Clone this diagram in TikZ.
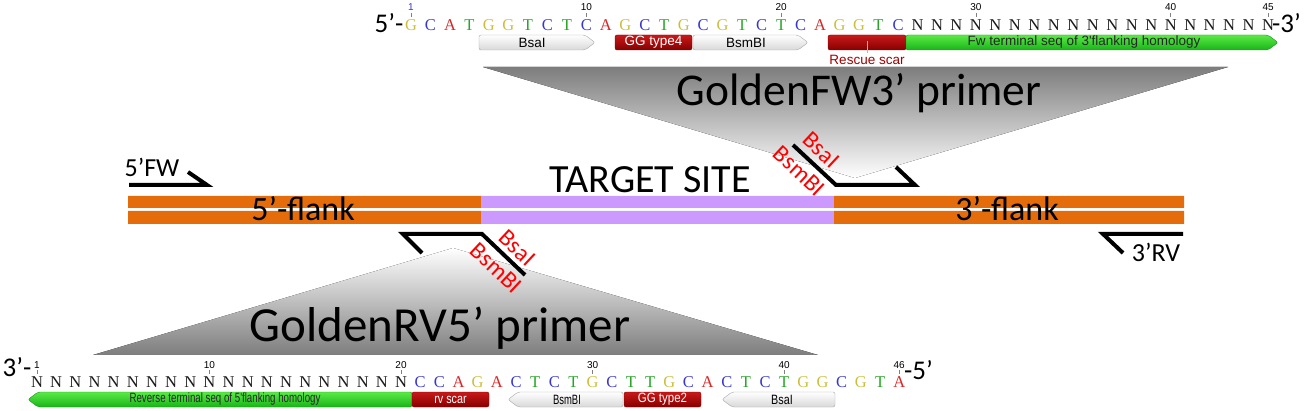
\documentclass[tikz,border=0pt]{standalone}
\usepackage{fontspec}
\setmainfont{Carlito}
\newfontfamily\seqfont{Liberation Serif}
\newfontfamily\featfont{Liberation Sans}
\definecolor{flankor}{RGB}{228,108,10}
\definecolor{targetpu}{RGB}{204,153,255}
\definecolor{colG}{RGB}{204,190,60}
\definecolor{colC}{RGB}{55,55,205}
\definecolor{colA}{RGB}{215,40,40}
\definecolor{colT}{RGB}{40,165,40}
\definecolor{colN}{RGB}{25,25,25}
\definecolor{wedgegray}{RGB}{125,125,125}
\definecolor{redtop}{RGB}{200,25,25}
\definecolor{redbot}{RGB}{135,0,0}
\definecolor{grtop}{RGB}{90,235,70}
\definecolor{grbot}{RGB}{25,180,25}
\definecolor{scarred}{RGB}{160,0,0}
\newcommand\fwdfeat[5]{\path[#5] (#1,#3) -- ({#2-10},#3) -- (#2,{(#3+#4)/2}) -- ({#2-10},#4) -- (#1,#4) -- cycle;}
\newcommand\revfeat[5]{\path[#5] ({#1+10},#3) -- (#2,#3) -- (#2,#4) -- ({#1+10},#4) -- (#1,{(#3+#4)/2}) -- cycle;}
\newcommand\boxfeat[5]{\path[#5] (#1,#3) rectangle (#2,#4);}
\begin{document}
\begin{tikzpicture}[x=1pt,y=-1pt,
  primer/.style={line width=4pt,line join=miter},
  seqch/.style={inner sep=0pt,anchor=base,font=\seqfont\fontsize{16.5}{17}\selectfont},
  numlab/.style={inner sep=0pt,anchor=base,font=\featfont\fontsize{10}{11}\selectfont},
  tickmark/.style={draw=gray,line width=0.8pt},
  endlab/.style={inner sep=0pt,font=\fontsize{27}{30}\selectfont},
  flanklab/.style={inner sep=0pt,anchor=base,font=\fontsize{34}{36}\selectfont},
  biglab/.style={inner sep=0pt,anchor=base,font=\fontsize{45.5}{48}\selectfont},
  enzlab/.style={inner sep=0pt,text=red,font=\fontsize{24}{26}\selectfont,rotate=-43},
  primerlab/.style={inner sep=0pt,anchor=base,font=\fontsize{26}{28}\selectfont},
  featlab/.style={inner sep=0pt,font=\featfont\fontsize{13.5}{14}\selectfont},
  whitefeat/.style={draw=gray!70,top color=white,bottom color=gray!30,rounded corners=2pt},
  redfeat/.style={draw=redbot,top color=redtop,bottom color=redbot,rounded corners=2pt},
  greenfeat/.style={draw=grbot!80!black,top color=grtop,bottom color=grbot,rounded corners=2pt}
]
\useasboundingbox (0,0) rectangle (1306,411);
% wedges
\fill[top color=wedgegray,bottom color=white] (483,67) -- (1228,67) -- (855,178) -- cycle;
\fill[top color=white,bottom color=wedgegray] (453,248) -- (818,355) -- (93,355) -- cycle;
% construct bar
\fill[flankor] (128,196) rectangle (481,208) (128,211) rectangle (481,224);
\fill[targetpu] (481,196) rectangle (834,208) (481,211) rectangle (834,224);
\fill[flankor] (834,196) rectangle (1184,208) (834,211) rectangle (1184,224);
\node[flanklab] (fl5) at (303,221) {5’-flank};
\node[flanklab] (fl3) at (1007,221) {3’-flank};
\node[flanklab,font=\fontsize{40}{42}\selectfont] (tgt) at (650,193) {TARGET SITE};
% outer primers
\draw[primer] (129,185) -- (207,185) -- (188,172);
\node[primerlab] (fw5) at (152,177) {5’FW};
\draw[primer] (1183,234) -- (1103,234) -- (1123,253);
\node[primerlab] (rv3) at (1156,262) {3’RV};
% golden primers
\draw[primer] (793,145) -- (836,185) -- (915,185) -- (896,167);
\node[enzlab] (tbsa) at (821,150) {BsaI};
\node[enzlab] (tbsm) at (799,171) {BsmBI};
\draw[primer] (525,275) -- (482,234) -- (403,234) -- (422,253);
\node[enzlab] (bbsa) at (517,248) {BsaI};
\node[enzlab] (bbsm) at (496,268) {BsmBI};
\node[biglab] (gfw) at (859,106) {GoldenFW3’ primer};
\node[biglab,font=\fontsize{49}{52}\selectfont] (grv) at (440,342) {GoldenRV5’ primer};
% top sequence
\node[endlab,anchor=base] (t5) at (389,33) {5’-};
\foreach \l [count=\i] in {G,C,A,T,G,G,T,C,T,C,A,G,C,T,G,C,G,T,C,T,C,A,G,G,T,C,N,N,N,N,N,N,N,N,N,N,N,N,N,N,N,N,N,N,N}{
  \node[seqch,text=col\l] (ts\i) at ({411+(\i-1)*19.48},31) {\l};
}
\node[endlab,anchor=base west] (t3) at (1272,33) {-3’};
\foreach \n/\p in {10/10,20/20,30/30,40/40,45/45}{
  \node[numlab] (tn\n) at ({411+(\p-1)*19.48},11) {\n};
  \draw[tickmark] ({411+(\p-1)*19.48},13) -- ({411+(\p-1)*19.48},17);
}
\node[numlab,text=colC] (tn1) at (411,11) {1};
\draw[tickmark] (411,13) -- (411,17);
% top features
\fwdfeat{479}{595}{35}{50}{whitefeat}
\node[featlab] (fa1) at (532,42.5) {BsaI};
\boxfeat{615}{692}{35}{50}{redfeat}
\node[featlab,text=white] (fa2) at (653.5,42.5) {GG type4};
\fwdfeat{693}{808}{35}{50}{whitefeat}
\node[featlab] (fa3) at (746,42.5) {BsmBI};
\boxfeat{828}{906}{35}{50}{redfeat}
\draw[red!40!white,line width=0.8pt] (867,41) -- (867,53);
\node[featlab,text=scarred,font=\featfont\fontsize{13.5}{14}\selectfont] (fa4) at (867,60) {Rescue scar};
\fwdfeat{906}{1278}{35}{50}{greenfeat}
\node[featlab,text=black!85] (fa5) at (1084,42.5) {Fw terminal seq of 3'flanking homology};
% bottom sequence
\node[endlab,anchor=base] (b3) at (17,377) {3’-};
\foreach \l [count=\i] in {N,N,N,N,N,N,N,N,N,N,N,N,N,N,N,N,N,N,N,N,C,C,A,G,A,C,T,C,T,G,C,T,T,G,C,A,C,T,C,T,G,G,C,G,T,A}{
  \node[seqch,text=col\l] (bs\i) at ({37+(\i-1)*19.16},387) {\l};
}
\node[endlab,anchor=base west] (b5) at (904,380) {-5’};
\foreach \n/\p in {1/1,10/10,20/20,30/30,40/40,46/46}{
  \node[numlab] (bn\n) at ({37+(\p-1)*19.16},368) {\n};
  \draw[tickmark] ({37+(\p-1)*19.16},370) -- ({37+(\p-1)*19.16},374);
}
% bottom features
\revfeat{28}{412}{392}{407}{greenfeat}
\node[featlab,text=black!85] (fb1) at (225,399.5) {\scalebox{0.72}[1]{Reverse terminal seq of 5'flanking homology}};
\boxfeat{412}{489}{392}{407}{redfeat}
\node[featlab,text=white] (fb2) at (450.5,399.5) {\scalebox{0.8}[1]{rv scar}};
\revfeat{508}{623}{392}{407}{whitefeat}
\node[featlab] (fb3) at (567,399.5) {\scalebox{0.7}[1]{BsmBI}};
\boxfeat{624}{701}{392}{407}{redfeat}
\node[featlab,text=white] (fb4) at (662.5,399.5) {\scalebox{0.85}[1]{GG type2}};
\revfeat{722}{835}{392}{407}{whitefeat}
\node[featlab] (fb5) at (782,399.5) {\scalebox{0.8}[1]{BsaI}};
\end{tikzpicture}
\end{document}
